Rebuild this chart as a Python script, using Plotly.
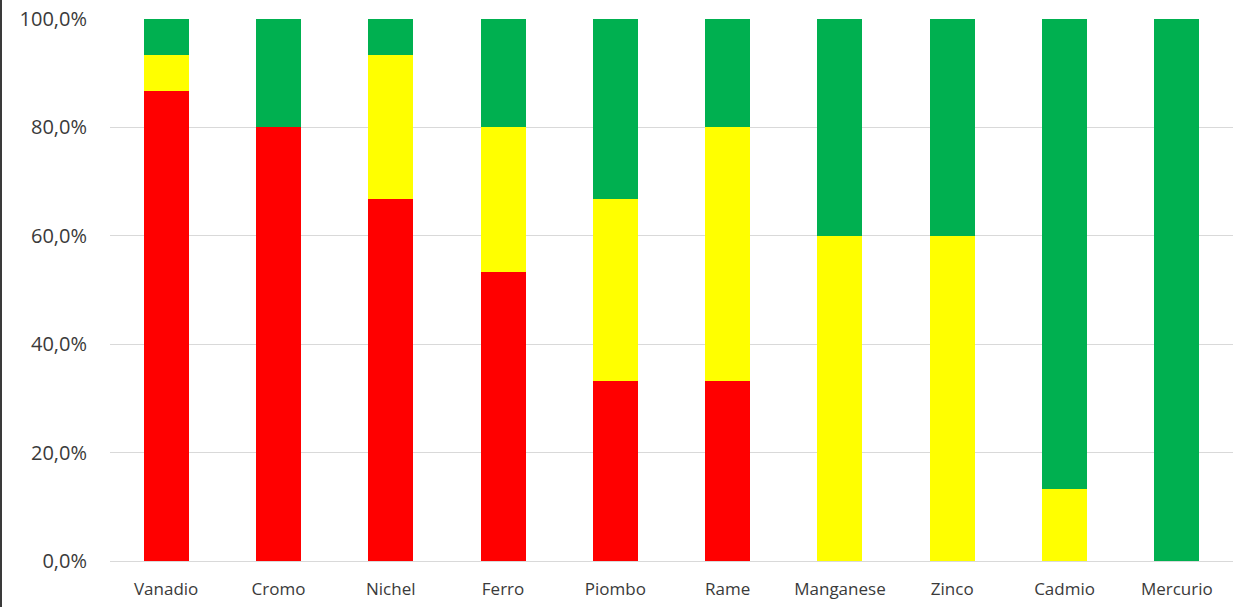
import plotly.graph_objects as go

# Share of samples per element, by class (percent of total)
elements = ["Vanadio", "Cromo", "Nichel", "Ferro", "Piombo",
            "Rame", "Manganese", "Zinco", "Cadmio", "Mercurio"]
red_pct = [86.7, 80.0, 66.7, 53.3, 33.3, 33.3, 0.0, 0.0, 0.0, 0.0]
yellow_pct = [6.6, 0.0, 26.6, 26.7, 33.4, 46.7, 60.0, 60.0, 13.3, 0.0]
green_pct = [6.7, 20.0, 6.7, 20.0, 33.3, 20.0, 40.0, 40.0, 86.7, 100.0]

y_tick_values = [0, 20, 40, 60, 80, 100]
y_tick_labels = ["0,0%", "20,0%", "40,0%", "60,0%", "80,0%", "100,0%"]

series = [
    ("Rosso", red_pct, "#FF0000"),
    ("Giallo", yellow_pct, "#FFFF00"),
    ("Verde", green_pct, "#00B050"),
]

fig = go.Figure()
for name, values, color in series:
    fig.add_trace(go.Bar(
        x=elements, y=values, name=name,
        marker=dict(color=color, line=dict(width=0)),
        hovertemplate="%{x}: %{y:.1f}%<extra>" + name + "</extra>",
    ))

font_family = "'Open Sans', Lato, 'DejaVu Sans', sans-serif"

fig.update_layout(
    width=1245, height=607,
    barmode="stack", bargap=0.6,
    showlegend=False,
    plot_bgcolor="white", paper_bgcolor="white",
    margin=dict(l=110, r=12, t=19, b=46, autoexpand=False),
    font=dict(family=font_family, color="#404040"),
    xaxis=dict(
        showgrid=False, showline=False, ticks="", automargin=False,
        tickfont=dict(size=17, color="#3A3A3A"),
        ticklabelstandoff=16,
    ),
    yaxis=dict(
        range=[0, 100], tickvals=y_tick_values, ticktext=y_tick_labels,
        showgrid=True, gridcolor="#D9D9D9", gridwidth=1,
        zeroline=True, zerolinecolor="#D9D9D9", zerolinewidth=1,
        showline=False, ticks="", automargin=False,
        tickfont=dict(size=20, color="#3A3A3A"),
        ticklabelstandoff=22,
    ),
    shapes=[dict(
        type="line", xref="paper", yref="paper",
        x0=-109 / 1123, x1=-109 / 1123, y0=-46 / 542, y1=1 + 19 / 542,
        line=dict(color="#3A3A3A", width=2),
    )],
)

fig.write_html("out.html")
